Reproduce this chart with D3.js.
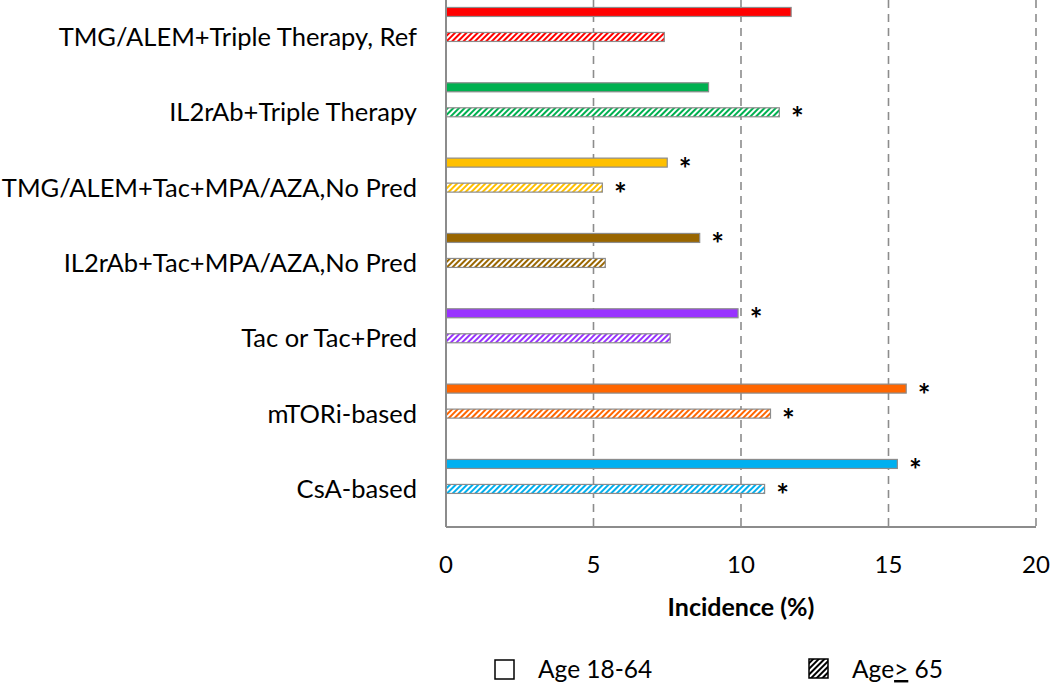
<!DOCTYPE html>
<head>
    <meta charset="utf-8">
    <title>Incidence by regimen</title>
</head>
<style>
    body { margin: 0; background: #fff; }
    svg { display: block; font-family: Lato, "Open Sans", sans-serif; }
    .grid line { stroke: #8c8c8c; stroke-width: 1.6px; stroke-dasharray: 8 6; }
    .frame { stroke: #8c8c8c; stroke-width: 2px; }
    .bar { stroke: #8c8c8c; stroke-width: 1.2px; }
</style>
<body>
<script src="https://d3js.org/d3.v7.min.js"></script>
<script>
    var width = 1050,
        height = 685;

    // categories, top to bottom
    var categories = [
        "TMG/ALEM+Triple Therapy, Ref",
        "IL2rAb+Triple Therapy",
        "TMG/ALEM+Tac+MPA/AZA,No Pred",
        "IL2rAb+Tac+MPA/AZA,No Pred",
        "Tac or Tac+Pred",
        "mTORi-based",
        "CsA-based"
    ];
    var colors = ["#ff0000", "#00b050", "#ffc000", "#996600", "#9933ff", "#ff6600", "#00b0f0"];
    var series = ["Age 18-64", "Age> 65"];
    var young = [11.7, 8.9, 7.5, 8.6, 9.9, 15.6, 15.3];
    var old = [7.4, 11.3, 5.3, 5.4, 7.6, 11.0, 10.8];
    // significance flags
    var youngStar = [false, false, true, true, true, true, true];
    var oldStar = [false, true, true, false, false, true, true];
    var xTicks = [0, 5, 10, 15, 20];

    var x = d3.scaleLinear().domain([0, 20]).range([446, 1036]);
    var y = d3.scaleBand().domain(categories).range([-13.2, 514.1]);
    var sub = d3.scalePoint().domain(series).range([-12.5, 12.5]);
    var barH = 9;
    var axisY = 527;

    var svg = d3.select("body").append("svg")
        .attr("width", width)
        .attr("height", height);

    var defs = svg.append("defs");
    function hatch(id, col) {
        var p = defs.append("pattern")
            .attr("id", id)
            .attr("patternUnits", "userSpaceOnUse")
            .attr("width", 4).attr("height", 4)
            .attr("patternTransform", "rotate(45)");
        p.append("rect").attr("width", 4).attr("height", 4).attr("fill", "#fff");
        p.append("rect").attr("width", 2).attr("height", 4).attr("fill", col);
    }
    colors.forEach(function (c, i) { hatch("h" + i, c); });
    hatch("hk", "#000");

    // dashed gridlines
    svg.append("g").attr("class", "grid")
        .selectAll("line")
        .data(xTicks.slice(1))
        .join("line")
        .attr("x1", d => x(d)).attr("x2", d => x(d))
        .attr("y1", 0).attr("y2", axisY);

    var rows = categories.map(function (c, i) {
        return [
            { cat: c, s: series[0], v: young[i], fill: colors[i], star: youngStar[i] },
            { cat: c, s: series[1], v: old[i], fill: "url(#h" + i + ")", star: oldStar[i] }
        ];
    }).flat();

    svg.append("g").selectAll("rect")
        .data(rows)
        .join("rect")
        .attr("class", "bar")
        .attr("x", x(0))
        .attr("y", d => y(d.cat) + y.bandwidth() / 2 + sub(d.s) - barH / 2)
        .attr("width", d => x(d.v) - x(0))
        .attr("height", barH)
        .attr("fill", d => d.fill);

    svg.append("g").selectAll("text")
        .data(rows.filter(d => d.star))
        .join("text")
        .attr("x", d => x(d.v) + 18)
        .attr("y", d => y(d.cat) + y.bandwidth() / 2 + sub(d.s) + 17)
        .attr("text-anchor", "middle")
        .attr("font-size", 30)
        .attr("font-weight", "bold")
        .attr("fill", "#000")
        .text("*");

    // axis frame
    svg.append("line").attr("class", "frame")
        .attr("x1", x(0)).attr("x2", x(0)).attr("y1", 0).attr("y2", axisY);
    svg.append("line").attr("class", "frame")
        .attr("x1", x(0)).attr("x2", x(20)).attr("y1", axisY).attr("y2", axisY);

    // category labels
    svg.append("g").selectAll("text")
        .data(categories)
        .join("text")
        .attr("x", 417)
        .attr("y", d => y(d) + y.bandwidth() / 2 + sub(series[1]))
        .attr("dy", "0.35em")
        .attr("text-anchor", "end")
        .attr("font-size", 25.5)
        .attr("fill", "#000")
        .text(d => d);

    svg.append("g").selectAll("text")
        .data(xTicks)
        .join("text")
        .attr("x", d => x(d))
        .attr("y", 573)
        .attr("text-anchor", "middle")
        .attr("font-size", 24)
        .attr("fill", "#000")
        .text(d => d);

    svg.append("text")
        .attr("x", x(10))
        .attr("y", 616)
        .attr("text-anchor", "middle")
        .attr("font-size", 25)
        .attr("font-weight", "bold")
        .attr("fill", "#000")
        .text("Incidence (%)");

    // legend
    var lg = svg.append("g");
    lg.append("rect").attr("x", 495).attr("y", 660).attr("width", 19).attr("height", 19)
        .attr("fill", "#fff").attr("stroke", "#000").attr("stroke-width", 1.5);
    lg.append("text").attr("x", 538).attr("y", 678).attr("font-size", 24.5).text(series[0]);
    lg.append("rect").attr("x", 809).attr("y", 659).attr("width", 19).attr("height", 19)
        .attr("fill", "url(#hk)").attr("stroke", "#000").attr("stroke-width", 1.5);
    var t2 = lg.append("text").attr("x", 852).attr("y", 678).attr("font-size", 24.5);
    t2.append("tspan").text("Age");
    t2.append("tspan").style("text-decoration", "underline").text(">");
    t2.append("tspan").text(" 65");
</script>
</body>
